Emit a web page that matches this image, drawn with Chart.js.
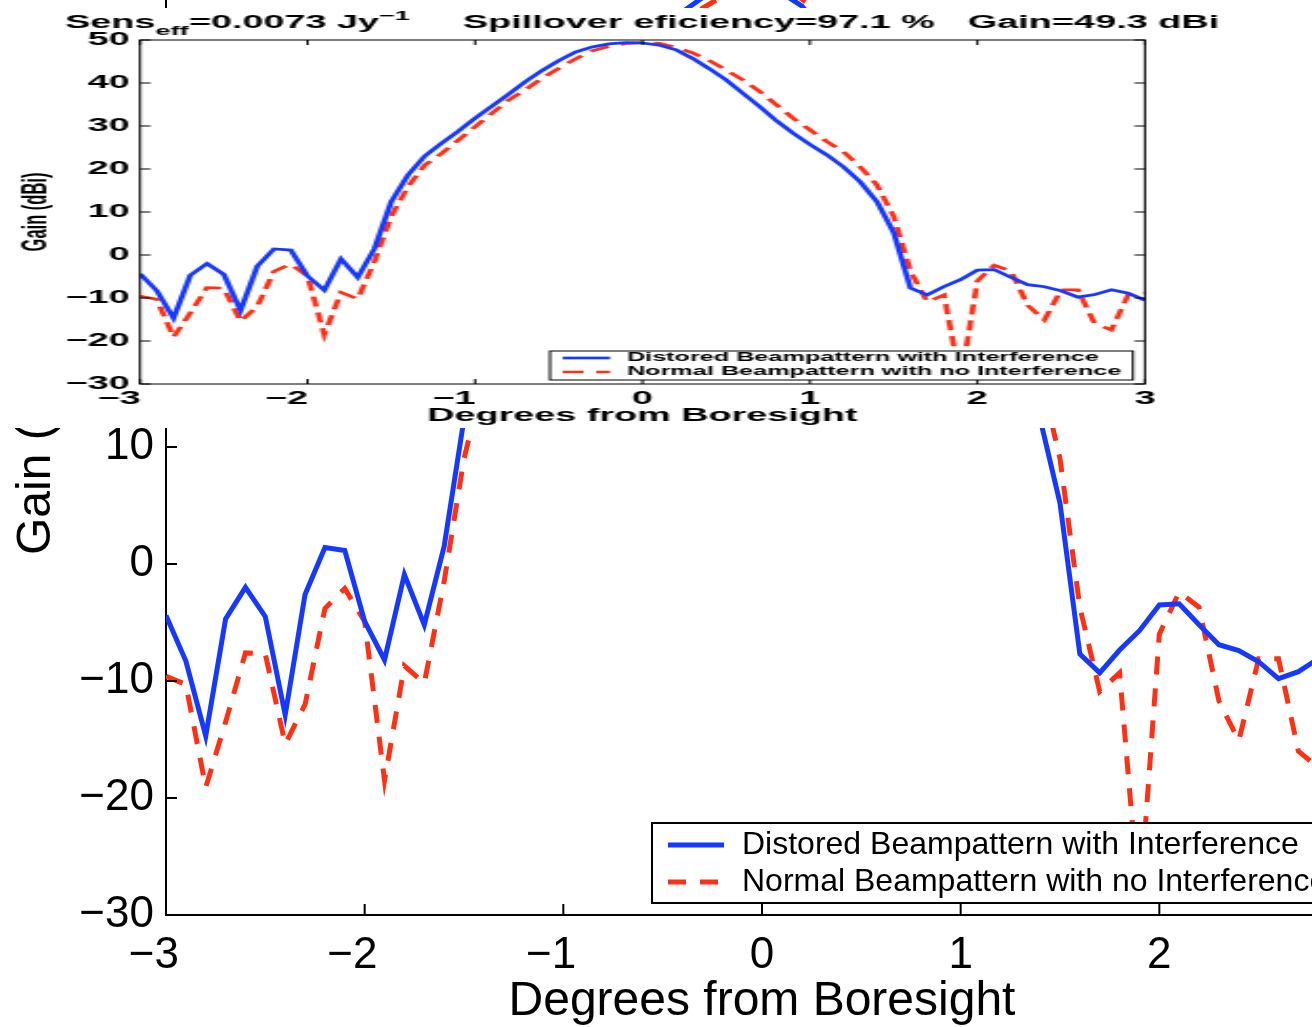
<!DOCTYPE html>
<html><head><meta charset="utf-8">
<script src="https://cdn.jsdelivr.net/npm/chart.js@4.4.1/dist/chart.umd.min.js"></script>
<style>
html,body{margin:0;padding:0;background:#fff;overflow:hidden;width:1312px;height:1027px;position:relative;}
#bigWrap{position:absolute;left:0;top:-60px;width:1420px;height:1087px;}
#smallWrap{position:absolute;left:0;top:8px;width:625px;height:420px;transform:scaleX(2.0992);transform-origin:0 0;}
canvas{display:block;}
</style></head><body>
<div id="bigWrap"><canvas id="big" width="1420" height="1087"></canvas></div>
<div id="smallWrap"><canvas id="small" width="625" height="420"></canvas></div>
<script>
// ---------- data ----------
const angles = [-3.0,-2.9,-2.8,-2.7,-2.6,-2.5,-2.4,-2.3,-2.2,-2.1,-2.0,-1.9,-1.8,-1.7,-1.6,
  -1.5,-1.4,-1.3,-1.2,-1.1,-1.0,-0.9,-0.8,-0.7,-0.6,-0.5,-0.4,-0.3,-0.2,-0.1,0.0,
  0.1,0.2,0.3,0.4,0.5,0.6,0.7,0.8,0.9,1.0,1.1,1.2,1.3,1.4,1.5,
  1.6,1.7,1.8,1.9,2.0,2.1,2.2,2.3,2.4,2.5,2.6,2.7,2.8,2.9,3.0];
const distorted = [-4.4,-8.3,-14.7,-4.7,-2.0,-4.5,-12.9,-2.6,1.4,1.15,-4.9,-8.2,-0.9,-5.2,1.5,
  12.4,18.6,23.0,26.0,28.8,31.8,34.6,37.4,40.3,42.9,45.2,47.2,48.4,49.1,49.4,49.3,
  48.8,47.7,45.7,43.3,40.7,37.6,34.5,31.2,28.3,25.7,23.3,20.5,17.0,12.4,5.2,
  -7.7,-9.3,-7.35,-5.7,-3.5,-3.4,-5.2,-6.9,-7.4,-8.35,-9.8,-9.2,-8.1,-8.9,-10.5];
const normal = [-9.6,-10.3,-19.1,-13.5,-7.6,-7.7,-15.4,-12.0,-3.8,-2.1,-4.9,-18.5,-8.7,-10.2,-1.5,
  9.0,15.9,20.9,23.6,26.7,29.8,32.9,36.0,38.4,41.1,43.4,45.6,47.5,48.5,49.2,49.4,
  49.2,48.3,47.0,45.2,43.0,40.7,38.0,34.9,31.8,29.1,26.4,24.0,20.5,16.3,9.0,
  -3.7,-10.9,-9.3,-29.3,-6.0,-2.4,-3.7,-11.7,-15.1,-8.1,-8.1,-16.0,-17.4,-9.3,-8.9];
const seriesLabels = ['Distored Beampattern with Interference','Normal Beampattern with no Interference'];
const xTickValues = [-3,-2,-1,0,1,2,3];
const xTickLabels = ['\u22123','\u22122','\u22121','0','1','2','3'];
const yTickValues = [-30,-20,-10,0,10,20,30,40,50];
const yTickLabels = ['\u221230','\u221220','\u221210','0','10','20','30','40','50'];
const xTitle = 'Degrees from Boresight';
const yTitle = 'Gain (dBi)';
const smallTitleRuns = [
  [{t:'Sens'},{t:'eff',sub:true},{t:'=0.0073 Jy'},{t:'\u22121',sup:true}],
  [{t:'Spillover eficiency=97.1 %'}],
  [{t:'Gain=49.3 dBi'}]
];

// ---------- helpers ----------
const FONT = "'Liberation Sans', Arial, Helvetica, sans-serif";
const BLUE = 'rgb(22,56,255)';
const RED = 'rgb(255,48,20)';
function pts(ys){ return angles.map((a,i)=>({x:a,y:ys[i]})); }
function lookup(values, labels, pad){
  return v => { const i = values.findIndex(u=>Math.abs(u-v)<1e-6); if(i<0) return '';
    const s = labels[i]; return (pad && values[i]<0) ? s + '\u2007'.repeat(pad) : s; };
}

const whiteBg = { id:'whiteBg', beforeDraw(chart){ const c=chart.ctx; c.save(); c.fillStyle='#fff'; c.fillRect(0,0,chart.width,chart.height); c.restore(); } };

const innerTicks = { id:'innerTicks', afterDatasetsDraw(chart, args, o){
  const {ctx, chartArea:a, scales:{x,y}} = chart;
  ctx.save(); ctx.strokeStyle='#000'; ctx.lineWidth=o.width; ctx.beginPath();
  x.ticks.forEach(t=>{ const p=x.getPixelForValue(t.value);
    ctx.moveTo(p,a.bottom); ctx.lineTo(p,a.bottom-o.lenX);
    if(o.box){ ctx.moveTo(p,a.top); ctx.lineTo(p,a.top+o.lenX); } });
  y.ticks.forEach(t=>{ const p=y.getPixelForValue(t.value);
    ctx.moveTo(a.left,p); ctx.lineTo(a.left+o.lenY,p);
    if(o.box){ ctx.moveTo(a.right,p); ctx.lineTo(a.right-o.lenY,p); } });
  ctx.stroke();
  if(o.box){ ctx.lineWidth=o.boxWidth; ctx.strokeRect(a.left,a.top,a.right-a.left,a.bottom-a.top); }
  ctx.restore(); } };

const boxLegend = { id:'boxLegend', afterDatasetsDraw(chart, args, o){
  const ctx=chart.ctx; ctx.save();
  ctx.fillStyle='#fff'; ctx.fillRect(o.x,o.y,o.w,o.h);
  ctx.strokeStyle='#000'; ctx.lineWidth=o.border; ctx.strokeRect(o.x,o.y,o.w,o.h);
  chart.data.datasets.forEach((ds,i)=>{
    const cy=o.rows[i];
    ctx.strokeStyle=ds.borderColor; ctx.lineWidth=ds.borderWidth; ctx.setLineDash(ds.borderDash||[]);
    ctx.beginPath(); ctx.moveTo(o.lx0,cy); ctx.lineTo(o.lx1,cy); ctx.stroke(); ctx.setLineDash([]);
    ctx.fillStyle='#000'; ctx.font=o.font; ctx.textAlign='left'; ctx.textBaseline='middle';
    ctx.fillText(ds.label,o.tx,cy);
  });
  ctx.restore(); } };

const runTitle = { id:'runTitle', afterDraw(chart, args, o){
  const ctx=chart.ctx; ctx.save(); ctx.fillStyle='#000'; ctx.textAlign='left'; ctx.textBaseline='alphabetic';
  smallTitleRuns.forEach((run,ri)=>{ let x=o.xs[ri];
    run.forEach(p=>{ const size = p.sub||p.sup ? o.small : o.size;
      ctx.font = 'bold '+size+'px '+FONT;
      const yb = o.base + (p.sub?o.subDy:0) + (p.sup?o.supDy:0);
      ctx.fillText(p.t,x,yb); x += ctx.measureText(p.t).width; }); });
  ctx.restore(); } };

function scales(opt){
  return {
    x:{ type:'linear', min:-3, max:3,
      afterBuildTicks:s=>{ s.ticks = xTickValues.map(v=>({value:v})); },
      afterFit:s=>{ s.height = opt.xh; },
      grid:{display:false, drawTicks:false},
      border:{display:!opt.box, color:'#000', width:opt.axisW},
      ticks:{ padding:opt.xpad, color:'#000', autoSkip:false, maxRotation:0,
        font:{family:FONT, size:opt.tickSize, weight:opt.weight}, callback:lookup(xTickValues,xTickLabels,opt.padMinus) },
      title:{ display:true, text:xTitle, color:'#000', font:{family:FONT, size:opt.xTitleSize, weight:opt.weight}, padding:{top:0,bottom:opt.xTitlePad} } },
    y:{ type:'linear', min:-30, max:50,
      afterBuildTicks:s=>{ s.ticks = yTickValues.map(v=>({value:v})); },
      afterFit:s=>{ s.width = opt.yw; },
      grid:{display:false, drawTicks:false},
      border:{display:!opt.box, color:'#000', width:opt.axisW},
      ticks:{ padding:opt.ypad, color:'#000', autoSkip:false,
        font:{family:FONT, size:opt.tickSize, weight:opt.weight}, callback:lookup(yTickValues,yTickLabels,0) },
      title:{ display:true, text:yTitle, color:'#000', font:{family:FONT, size:opt.yTitleSize, weight:opt.yTitleWeight}, padding:{top:opt.yTitlePad,bottom:0} } }
  };
}

// ---------- big (zoomed) chart ----------
new Chart(document.getElementById('big'), {
  type:'line',
  data:{ datasets:[
    {label:seriesLabels[0], data:pts(distorted), borderColor:BLUE, borderWidth:5, pointRadius:0, tension:0, fill:false},
    {label:seriesLabels[1], data:pts(normal), borderColor:RED, borderWidth:5, borderDash:[18,14], pointRadius:0, tension:0, fill:false}
  ]},
  options:{ responsive:false, animation:false, devicePixelRatio:1,
    layout:{padding:{top:39,right:62,bottom:0,left:0}},
    plugins:{ legend:{display:false}, tooltip:{enabled:false},
      innerTicks:{width:2, lenX:11, lenY:11, box:false},
      boxLegend:{x:652,y:883,w:698,h:80,border:2,rows:[905,942],lx0:668,lx1:724,tx:742,font:'32px '+FONT} },
    scales:scales({xh:112, yw:166, box:false, axisW:2, xpad:14, ypad:12, tickSize:44, weight:'normal',
      xTitleSize:48, xTitlePad:-4, yTitleSize:48, yTitleWeight:'normal', yTitlePad:8, padMinus:1})
  },
  plugins:[whiteBg, innerTicks, boxLegend]
});

// ---------- small (full) chart, horizontally stretched ----------
new Chart(document.getElementById('small'), {
  type:'line',
  data:{ datasets:[
    {label:seriesLabels[0], data:pts(distorted), borderColor:BLUE, borderWidth:2.7, pointRadius:0, tension:0, fill:false},
    {label:seriesLabels[1], data:pts(normal), borderColor:RED, borderWidth:2.7, borderDash:[10,6], pointRadius:0, tension:0, fill:false}
  ]},
  options:{ responsive:false, animation:false, devicePixelRatio:1,
    layout:{padding:{top:32,right:79.6,bottom:0,left:0}},
    plugins:{ legend:{display:false}, tooltip:{enabled:false},
      innerTicks:{width:1, lenX:5, lenY:5, box:true, boxWidth:1},
      boxLegend:{x:262,y:343,w:277.7,h:29,border:1,rows:[350,364],lx0:268,lx1:290.6,tx:298.7,font:'bold 12px '+FONT},
      runTitle:{xs:[31,220.6,461.1], base:20, size:18, small:13, subDy:7, supDy:-8.5} },
    scales:scales({xh:44, yw:66.7, box:true, axisW:1, xpad:4, ypad:5, tickSize:18, weight:'bold',
      xTitleSize:18, xTitlePad:1, yTitleSize:16.5, yTitleWeight:'bold', yTitlePad:8, padMinus:2})
  },
  plugins:[whiteBg, innerTicks, boxLegend, runTitle]
});
</script>
</body></html>
